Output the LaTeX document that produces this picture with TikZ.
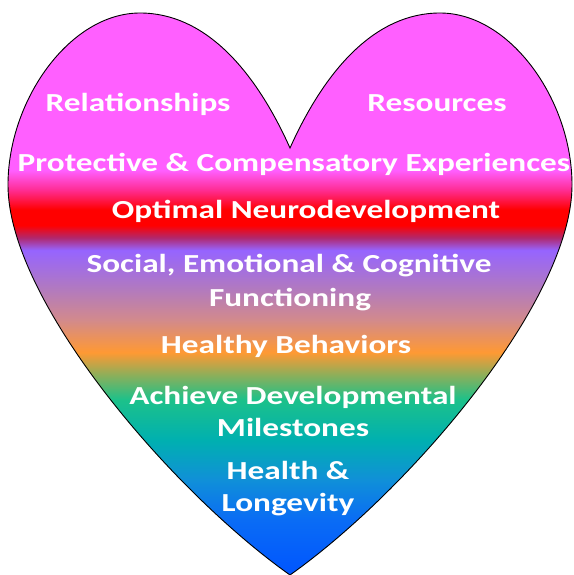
\documentclass[tikz,border=0pt]{standalone}
\usepackage{fontspec}
\setmainfont{Carlito}
\usetikzlibrary{positioning,calc}

\definecolor{hmag}{RGB}{255,95,255}
\definecolor{hpink}{RGB}{255,45,150}
\definecolor{hred}{RGB}{255,0,0}
\definecolor{hdark}{RGB}{176,40,110}
\definecolor{hviolet}{RGB}{150,100,255}
\definecolor{hmauve}{RGB}{178,122,190}
\definecolor{hrose}{RGB}{210,138,140}
\definecolor{horange}{RGB}{255,153,51}
\definecolor{holive}{RGB}{140,175,90}
\definecolor{hgreen}{RGB}{28,193,138}
\definecolor{hteal}{RGB}{0,176,176}
\definecolor{hsky}{RGB}{16,144,216}
\definecolor{hblue}{RGB}{10,108,245}
\definecolor{hdeep}{RGB}{0,85,255}

% 25bp = bottom of the heart, 75bp = top
\pgfdeclareverticalshading{heartfill}{100bp}{%
  color(0bp)=(hdeep); color(25bp)=(hdeep); color(29.9bp)=(hblue);
  color(33.5bp)=(hsky); color(37bp)=(hteal); color(40.6bp)=(hgreen);
  color(42.8bp)=(holive); color(44.8bp)=(horange); color(47.7bp)=(hrose);
  color(50.4bp)=(hmauve); color(53.9bp)=(hviolet); color(55bp)=(hdark);
  color(56.1bp)=(hred); color(57.5bp)=(hred); color(59.3bp)=(hpink);
  color(61bp)=(hmag); color(75bp)=(hmag); color(100bp)=(hmag)}

% the slide text is stretched sideways
\newcommand{\wide}[1]{\scalebox{1.28}[1]{#1}}

\begin{document}
\begin{tikzpicture}[x=1pt,y=-1pt,
    lbl/.style={text=white,font=\bfseries\fontsize{26}{30}\selectfont,anchor=base,inner sep=0pt}]
      \useasboundingbox (0,0) rectangle (573,575);

      % the heart
      \coordinate (dip) at (290,148);
      \coordinate (tip) at (290,575);
      \shadedraw[shading=heartfill,draw=black,line width=0.9pt]
        (dip) .. controls (255,70) and (205,13) .. (140,13)
              .. controls (70,13) and (8,100) .. (8,185)
              .. controls (8,300) and (170,490) .. (tip)
              .. controls (410,490) and (572,300) .. (572,185)
              .. controls (572,100) and (510,13) .. (440,13)
              .. controls (375,13) and (325,70) .. (dip) -- cycle;

      \node[lbl] (rel) at (138,111) {\wide{Relationships}};
      \node[lbl] (res) at (437,111) {\wide{Resources}};
      \node[lbl] (pce) at (294,171) {\wide{Protective \& Compensatory Experiences}};
      \node[lbl] (neuro) at (306,218) {\wide{Optimal Neurodevelopment}};
      \node[lbl] (sec) at (289,272) {\wide{Social, Emotional \& Cognitive}};
      \node[lbl] (func) at (290,306) {\wide{Functioning}};
      \node[lbl] (behav) at (286,353) {\wide{Healthy Behaviors}};
      \node[lbl] (ach) at (293,404) {\wide{Achieve Developmental}};
      \node[lbl] (miles) at (293,436) {\wide{Milestones}};
      \node[lbl] (health) at (288,479) {\wide{Health \&}};
      \node[lbl] (longev) at (288,511) {\wide{Longevity}};

    \end{tikzpicture}
\end{document}
